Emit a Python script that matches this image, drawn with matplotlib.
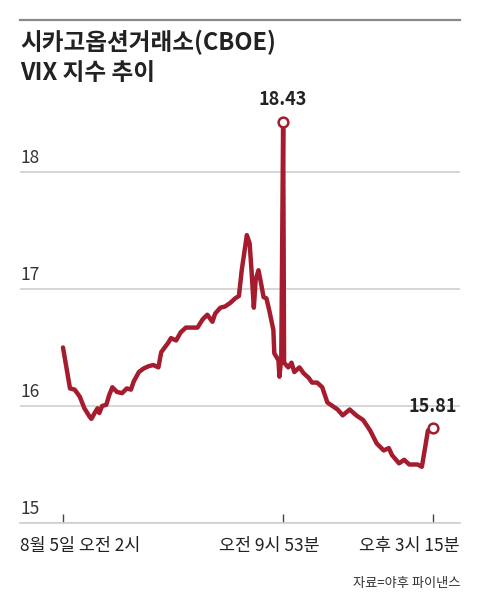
import matplotlib
matplotlib.use("Agg")
import matplotlib.pyplot as plt
import matplotlib.transforms as mtransforms

plt.rcParams['font.family'] = ['Noto Sans CJK KR', 'DejaVu Sans']

# minutes after 8/5 02:00 and VIX value
minutes = [0, 15, 25, 36, 46, 57, 61, 68, 74, 78, 84, 93, 99, 106, 116, 127,
           137, 146, 152, 163, 173, 184, 194, 205, 211, 226, 232, 243, 253,
           264, 275, 289, 300, 310, 321, 327, 338, 348, 359, 370, 378, 384,
           395, 401, 405, 410, 414, 420, 424, 431, 437, 443, 452, 454, 463,
           465, 469, 473, 475, 484, 491, 497, 508, 517, 528, 535, 546, 557,
           568, 579, 590, 601, 616, 630, 645, 660, 674, 689, 700, 707, 722,
           733, 744, 762, 771, 777, 784, 795]
vix = [16.50, 16.15, 16.14, 16.08, 15.98, 15.91, 15.89, 15.94, 15.98, 15.94,
       16.00, 16.01, 16.09, 16.16, 16.12, 16.11, 16.15, 16.14, 16.21, 16.29,
       16.32, 16.34, 16.35, 16.33, 16.46, 16.54, 16.58, 16.56, 16.63, 16.67,
       16.67, 16.67, 16.74, 16.78, 16.72, 16.79, 16.84, 16.85, 16.88, 16.92,
       16.94, 17.16, 17.46, 17.39, 17.16, 16.84, 17.08, 17.16, 17.08, 16.93,
       16.92, 16.82, 16.65, 16.45, 16.39, 16.25, 16.41, 18.43, 16.37, 16.33,
       16.37, 16.29, 16.33, 16.28, 16.24, 16.20, 16.20, 16.16, 16.03, 16.00,
       15.97, 15.92, 15.97, 15.92, 15.88, 15.79, 15.68, 15.62, 15.64, 15.58,
       15.51, 15.54, 15.50, 15.50, 15.48, 15.62, 15.79, 15.81]

x_ticks = [0, 473, 795]
x_labels = ['8월 5일 오전 2시', '오전 9시 53분', '오후 3시 15분']
y_ticks = [15, 16, 17, 18]

title = '시카고옵션거래소(CBOE)\nVIX 지수 추이'
source = '자료=야후 파이낸스'

RED = '#a51c2e'
GRID = '#cfcfcf'

fig = plt.figure(figsize=(4.8, 6.1), dpi=100)
ax = fig.add_axes([20 / 480, 87 / 610, 440 / 480, 423 / 610])

ax.plot(minutes, vix, color=RED, lw=3.2, solid_joinstyle='round',
        solid_capstyle='round', zorder=3)

# highlight the peak and the last value
i_max = vix.index(max(vix))
for i in [i_max, len(vix) - 1]:
    ax.plot(minutes[i], vix[i], 'o', ms=7, mfc='white', mec=RED, mew=1.8,
            zorder=4)
    ax.annotate(f'{vix[i]:.2f}', (minutes[i], vix[i]), xytext=(0, 9),
                textcoords='offset points', ha='center', va='bottom',
                fontsize=13, fontweight='bold', color='#222222')

ax.set_xlim(-92.4, 853)
ax.set_ylim(15, 18.615)

for s in ['top', 'right', 'left']:
    ax.spines[s].set_visible(False)
ax.spines['bottom'].set_color(GRID)
ax.spines['bottom'].set_linewidth(1.2)

ax.set_yticks(y_ticks)
ax.set_yticklabels([str(v) for v in y_ticks])
ax.grid(axis='y', color=GRID, lw=1.2, zorder=0)
ax.tick_params(axis='y', length=0, pad=0, labelsize=12.5,
               labelcolor='#333333')
for lab in ax.get_yticklabels():
    lab.set_horizontalalignment('left')
    lab.set_verticalalignment('bottom')
    lab.set_transform(lab.get_transform() + mtransforms.ScaledTranslation(
        0, 5 / 100, fig.dpi_scale_trans))

ax.set_xticks(x_ticks)
ax.set_xticklabels(x_labels)
ax.tick_params(axis='x', direction='in', length=6.5, width=1,
               color='#444444', pad=10, labelsize=12.5, labelcolor='#222222')
offsets = [(-43, 'left'), (-14, 'center'), (27, 'right')]
for lab, (dx, ha) in zip(ax.get_xticklabels(), offsets):
    lab.set_horizontalalignment(ha)
    lab.set_transform(lab.get_transform() + mtransforms.ScaledTranslation(
        dx / 100, 0, fig.dpi_scale_trans))

# top rule, title and source
fig.add_artist(plt.Line2D([20 / 480, 460 / 480], [1 - 20 / 610, 1 - 20 / 610],
                          color='#8a8a8a', lw=1.6))
fig.text(20 / 480, 1 - 30 / 610, title, ha='left', va='top', fontsize=17,
         fontweight='bold', color='#222222', linespacing=1.3)
fig.text(460 / 480, 1 - 583 / 610, source, ha='right', va='center',
         fontsize=9.5, color='#333333')

fig.savefig('out.png', dpi=100)
